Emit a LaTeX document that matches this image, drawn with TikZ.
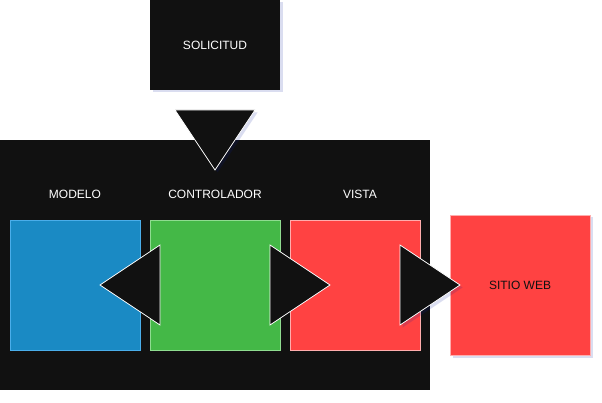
\documentclass[tikz,border=0pt]{standalone}
\usepackage{fontspec}
\setmainfont{Liberation Sans}
\usetikzlibrary{shadows}
\definecolor{boxBlack}{HTML}{111111}
\definecolor{modelBG}{HTML}{1A8AC4}
\definecolor{modelBorder}{HTML}{4AAEEA}
\definecolor{ctrlBG}{HTML}{44B847}
\definecolor{ctrlBorder}{HTML}{8FDC90}
\definecolor{viewBG}{HTML}{FF4242}
\definecolor{viewBorder}{HTML}{FFADAD}
\definecolor{shadowC}{HTML}{0A1A99}

\begin{document}
\begin{tikzpicture}[x=1pt, y=-1pt,
  panel/.style={minimum width=130pt, minimum height=130pt, inner sep=0pt, line width=0.8pt},
  caption/.style={text=white, font=\fontsize{12}{14}\selectfont},
  arrowhead/.style={fill=boxBlack, draw=white, line width=0.8pt, line join=miter},
  softshadow/.style={drop shadow={shadow xshift=2.5pt, shadow yshift=-2.5pt, fill=shadowC, opacity=0.15}},
]
  \useasboundingbox (0,0) rectangle (602,403);

  % request box on top
  \node[panel, minimum height=90pt, fill=boxBlack, softshadow, caption] (req) at (215,45) {SOLICITUD};

  % MVC container
  \node[fill=boxBlack, minimum width=430pt, minimum height=250pt, inner sep=0pt] (mvc) at (215,265) {};
  \filldraw[arrowhead, softshadow] (175,110) -- (255,110) -- (215,170) -- cycle;

  \node[caption] (lm) at (75,194) {MODELO};
  \node[caption] (lc) at (215,194) {CONTROLADOR};
  \node[caption] (lv) at (360,194) {VISTA};

  \node[panel, fill=modelBG, draw=modelBorder] (model) at (75,285) {};
  \node[panel, fill=ctrlBG, draw=ctrlBorder] (ctrl) at (215,285) {};
  \node[panel, fill=viewBG, draw=viewBorder] (view) at (355,285) {};

  \filldraw[arrowhead] (160,245) -- (160,325) -- (100,285) -- cycle;
  \filldraw[arrowhead] (270,245) -- (270,325) -- (330,285) -- cycle;

  % website
  \node[panel, minimum width=140pt, minimum height=140pt, fill=viewBG, draw=viewBorder, softshadow,
        text=boxBlack, font=\fontsize{12}{14}\selectfont] (web) at (520,285) {SITIO WEB};
  \filldraw[arrowhead, softshadow] (400,245) -- (400,325) -- (460,285) -- cycle;
\end{tikzpicture}
\end{document}
